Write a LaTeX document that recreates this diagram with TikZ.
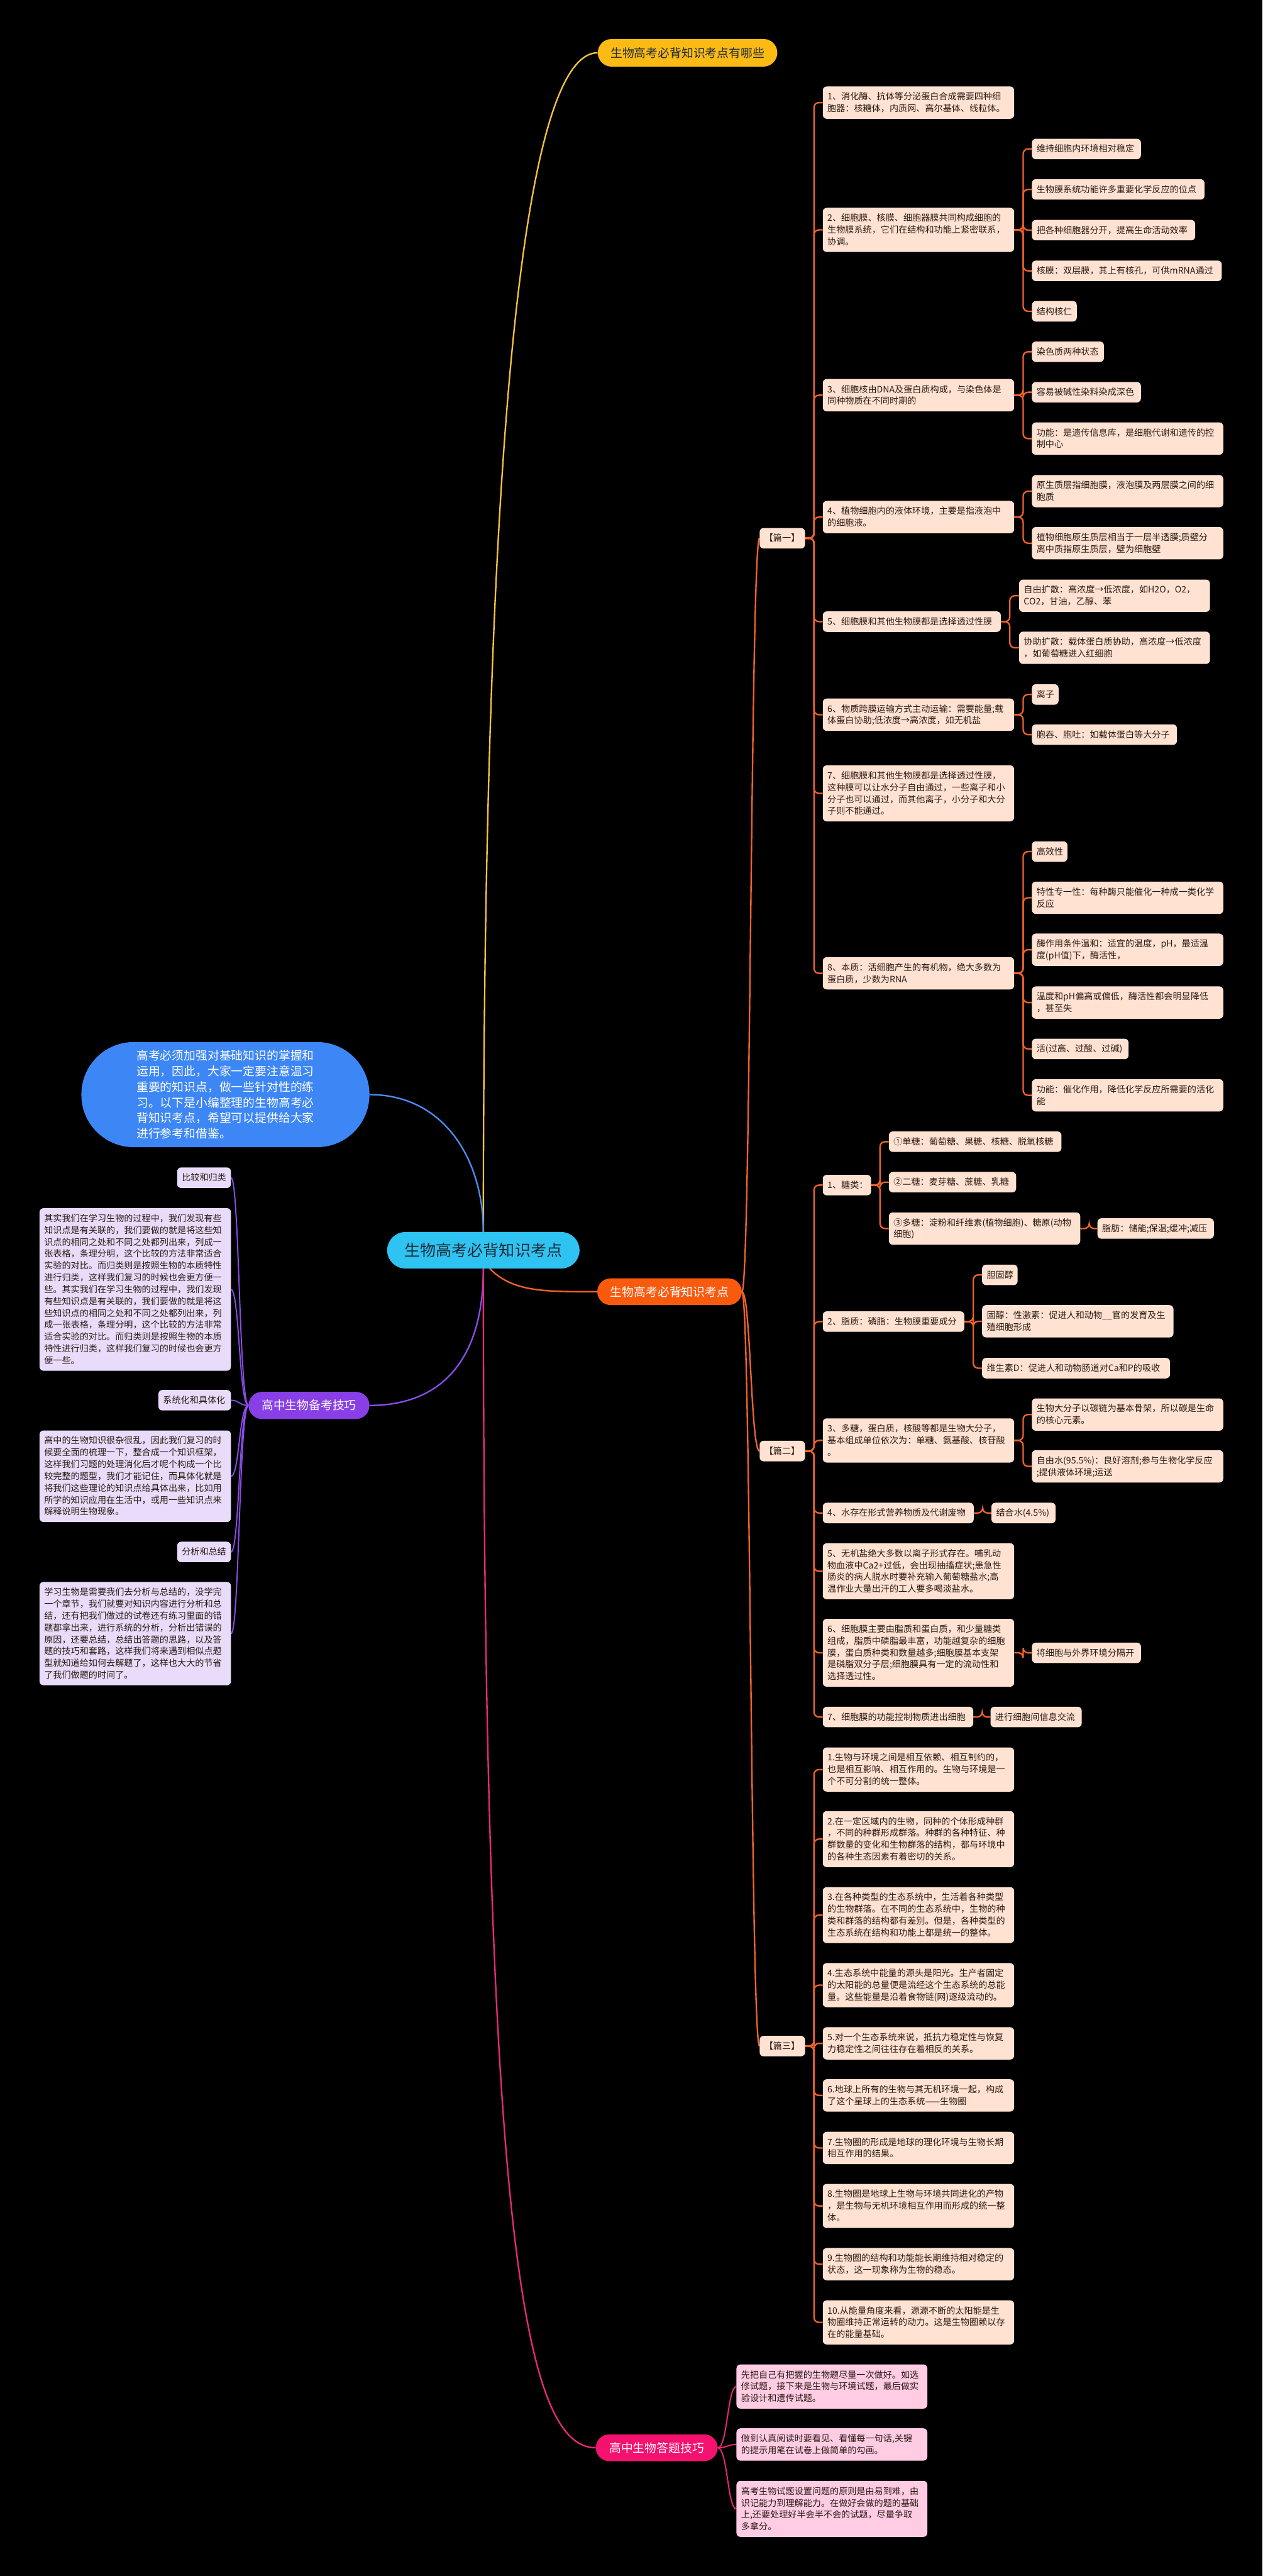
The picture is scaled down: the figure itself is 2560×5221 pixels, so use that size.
\documentclass[tikz,border=0pt]{standalone}
\usepackage{fontspec}
\setmainfont{Noto Sans CJK SC}
\usetikzlibrary{calc}
\pgfdeclarelayer{bg}
\pgfsetlayers{bg,main}
\definecolor{cyanr}{HTML}{2EC3F0}
\definecolor{yelf}{HTML}{FBBB14}
\definecolor{bluf}{HTML}{3D86F6}
\definecolor{orgf}{HTML}{F95A0E}
\definecolor{orgl}{HTML}{F0622A}
\definecolor{peach}{HTML}{FFE2D2}
\definecolor{ink}{HTML}{2A1A12}
\definecolor{ink2}{HTML}{1E2A36}
\definecolor{purf}{HTML}{8840E6}
\definecolor{lav}{HTML}{E8DCFA}
\definecolor{pnkf}{HTML}{F5126F}
\definecolor{rose}{HTML}{FFCCE4}
\definecolor{ylnc}{HTML}{F4C33C}
\definecolor{blnc}{HTML}{4A8CF2}
\definecolor{pulc}{HTML}{8A4DE6}
\definecolor{pklc}{HTML}{E62A78}
\newcommand\lstr{\rule[-5.5pt]{0pt}{24pt}}
\tikzset{
  lf/.style={anchor=north west, align=left, rounded corners=8pt, inner xsep=9.5pt, inner ysep=8.75pt,
    font=\fontsize{18}{24}\selectfont, text=ink, execute at begin node=\lstr, execute at end node=\lstr},
  pe/.style={lf, fill=peach},
  pu/.style={lf, fill=lav},
  pk/.style={lf, fill=rose},
  mainnode/.style={inner sep=0pt, font=\fontsize{24}{30}\selectfont},
  orline/.style={draw=orgl, line width=3pt, rounded corners=10pt},
  ocurve/.style={draw=orgl, line width=3pt},
  pline/.style={draw=pulc, line width=2.5pt},
  kline/.style={draw=pklc, line width=2.5pt}
}
\newcommand\elb[2]{\draw[orline] (#1.east) -- ++(18,0) |- (#2.west);}
\newcommand\pcu[2]{\draw[pline] (#1.west) .. controls +(-19,0) and +(17,0) .. (#2.east);}
\newcommand\kcu[2]{\draw[kline] (#1.east) .. controls +(20,0) and +(-18,0) .. (#2.west);}
\newcommand\ocu[2]{\draw[ocurve] (#1.east) .. controls +(18,0) and +(-18,0) .. (#2.west);}
\begin{document}
\begin{tikzpicture}[x=1pt,y=-1pt]
\begin{pgfonlayer}{bg}
\fill[black] (0,0) rectangle (2560,5221);
\end{pgfonlayer}
\useasboundingbox (0,0) rectangle (2560,5221);

% main nodes
\node[mainnode, fill=cyanr, text=ink2, rounded corners=37pt, minimum width=390pt, minimum height=74pt, font=\fontsize{32}{38}\selectfont] (root) at (980,2534) {生物高考必背知识考点};
\node[mainnode, fill=yelf, text=ink2, rounded corners=28pt, minimum width=364pt, minimum height=56pt] (nyel) at (1394,107) {生物高考必背知识考点有哪些};
\node[mainnode, fill=bluf, text=white, rounded corners=106pt, minimum width=584pt, minimum height=213pt, text width=360pt, align=left, font=\fontsize{24}{31.6}\selectfont] (nblu) at (457,2218.5) {高考必须加强对基础知识的掌握和\\运用，因此，大家一定要注意温习\\重要的知识点，做一些针对性的练\\习。以下是小编整理的生物高考必\\背知识考点，希望可以提供给大家\\进行参考和借鉴。};
\node[mainnode, fill=orgf, text=white, rounded corners=27pt, minimum width=293pt, minimum height=54pt] (norg) at (1357.5,2618) {生物高考必背知识考点};
\node[mainnode, fill=purf, text=white, rounded corners=27pt, minimum width=245pt, minimum height=55pt] (npur) at (626.5,2848.5) {高中生物备考技巧};
\node[mainnode, fill=pnkf, text=white, rounded corners=27pt, minimum width=247pt, minimum height=54pt] (npnk) at (1331.5,4961) {高中生物答题技巧};

% pian nodes
\node[pe, text width=73pt] (p1) at (1540,1070) {【篇一】};
\node[pe, text width=73pt] (p2) at (1540,2920) {【篇二】};
\node[pe, text width=73pt] (p3) at (1540,4126) {【篇三】};

% pian 1
\node[pe, text width=369pt] (a1) at (1668,175) {1、消化酶、抗体等分泌蛋白合成需要四种细\\胞器：核糖体，内质网、高尔基体、线粒体。};
\node[pe, text width=369pt] (a2) at (1668,421) {2、细胞膜、核膜、细胞器膜共同构成细胞的\\生物膜系统，它们在结构和功能上紧密联系，\\协调。};
\node[pe, text width=202pt] (a2s1) at (2092,281) {维持细胞内环境相对稳定};
\node[pe, text width=331pt] (a2s2) at (2092,363) {生物膜系统功能许多重要化学反应的位点};
\node[pe, text width=312pt] (a2s3) at (2092,445.5) {把各种细胞器分开，提高生命活动效率};
\node[pe, text width=366pt] (a2s4) at (2092,528) {核膜：双层膜，其上有核孔，可供mRNA通过};
\node[pe, text width=72pt] (a2s5) at (2092,610) {结构核仁};
\node[pe, text width=369pt] (a3) at (1668,768) {3、细胞核由DNA及蛋白质构成，与染色体是\\同种物质在不同时期的};
\node[pe, text width=127pt] (a3s1) at (2092,692) {染色质两种状态};
\node[pe, text width=202pt] (a3s2) at (2092,774) {容易被碱性染料染成深色};
\node[pe, text width=369pt] (a3s3) at (2092,856) {功能：是遗传信息库，是细胞代谢和遗传的控\\制中心};
\node[pe, text width=369pt] (a4) at (1668,1015) {4、植物细胞内的液体环境，主要是指液泡中\\的细胞液。};
\node[pe, text width=369pt] (a4s1) at (2092,962.5) {原生质层指细胞膜，液泡膜及两层膜之间的细\\胞质};
\node[pe, text width=369pt] (a4s2) at (2092,1068) {植物细胞原生质层相当于一层半透膜;质壁分\\离中质指原生质层，壁为细胞壁};
\node[pe, text width=342pt] (a5) at (1668,1239) {5、细胞膜和其他生物膜都是选择透过性膜};
\node[pe, text width=368pt] (a5s1) at (2066,1174.5) {自由扩散：高浓度→低浓度，如H2O，O2，\\CO2，甘油，乙醇、苯};
\node[pe, text width=368pt] (a5s2) at (2066,1280) {协助扩散：载体蛋白质协助，高浓度→低浓度\\，如葡萄糖进入红细胞};
\node[pe, text width=369pt] (a6) at (1668,1415.6) {6、物质跨膜运输方式主动运输：需要能量;载\\体蛋白协助;低浓度→高浓度，如无机盐};
\node[pe, text width=35pt] (a6s1) at (2092,1386.6) {离子};
\node[pe, text width=275pt] (a6s2) at (2092,1468) {胞吞、胞吐：如载体蛋白等大分子};
\node[pe, text width=369pt] (a7) at (1668,1551) {7、细胞膜和其他生物膜都是选择透过性膜，\\这种膜可以让水分子自由通过，一些离子和小\\分子也可以通过，而其他离子，小分子和大分\\子则不能通过。};
\node[pe, text width=369pt] (a8) at (1668,1939.7) {8、本质：活细胞产生的有机物，绝大多数为\\蛋白质，少数为RNA};
\node[pe, text width=53pt] (a8s1) at (2092,1705) {高效性};
\node[pe, text width=369pt] (a8s2) at (2092,1786.6) {特性专一性：每种酶只能催化一种成一类化学\\反应};
\node[pe, text width=369pt] (a8s3) at (2092,1892) {酶作用条件温和：适宜的温度，pH，最适温\\度(pH值)下，酶活性，};
\node[pe, text width=369pt] (a8s4) at (2092,1999) {温度和pH偏高或偏低，酶活性都会明显降低\\，甚至失};
\node[pe, text width=177pt] (a8s5) at (2092,2105) {活(过高、过酸、过碱)};
\node[pe, text width=369pt] (a8s6) at (2092,2187) {功能：催化作用，降低化学反应所需要的活化\\能};

% pian 2
\node[pe, text width=79pt] (b1) at (1668,2381) {1、糖类：};
\node[pe, text width=331pt] (b1s1) at (1802,2293) {①单糖：葡萄糖、果糖、核糖、脱氧核糖};
\node[pe, text width=239pt] (b1s2) at (1802,2375) {②二糖：麦芽糖、蔗糖、乳糖};
\node[pe, text width=369pt] (b1s3) at (1802,2457) {③多糖：淀粉和纤维素(植物细胞)、糖原(动物\\细胞)};
\node[pe, text width=217pt] (b1s3a) at (2225,2469) {脂肪：储能;保温;缓冲;减压};
\node[pe, text width=268pt] (b2) at (1668,2657.6) {2、脂质：磷脂：生物膜重要成分};
\node[pe, text width=53pt] (b2s1) at (1991,2563) {胆固醇};
\node[pe, text width=369pt] (b2s2) at (1991,2645) {固醇：性激素：促进人和动物\_\_官的发育及生\\殖细胞形成};
\node[pe, text width=362pt] (b2s3) at (1991,2752) {维生素D：促进人和动物肠道对Ca和P的吸收};
\node[pe, text width=369pt] (b3) at (1668,2874.5) {3、多糖，蛋白质，核酸等都是生物大分子，\\基本组成单位依次为：单糖、氨基酸、核苷酸\\。};
\node[pe, text width=369pt] (b3s1) at (2092,2834) {生物大分子以碳链为基本骨架，所以碳是生命\\的核心元素。};
\node[pe, text width=369pt] (b3s2) at (2092,2939) {自由水(95.5\%)：良好溶剂;参与生物化学反应\\;提供液体环境;运送};
\node[pe, text width=287pt] (b4) at (1668,3045.5) {4、水存在形式营养物质及代谢废物};
\node[pe, text width=111pt] (b4s1) at (2010,3045.5) {结合水(4.5\%)};
\node[pe, text width=369pt] (b5) at (1668,3127.6) {5、无机盐绝大多数以离子形式存在。哺乳动\\物血液中Ca2+过低，会出现抽搐症状;患急性\\肠炎的病人脱水时要补充输入葡萄糖盐水;高\\温作业大量出汗的工人要多喝淡盐水。};
\node[pe, text width=369pt] (b6) at (1668,3280.8) {6、细胞膜主要由脂质和蛋白质，和少量糖类\\组成，脂质中磷脂最丰富，功能越复杂的细胞\\膜，蛋白质种类和数量越多;细胞膜基本支架\\是磷脂双分子层;细胞膜具有一定的流动性和\\选择透过性。};
\node[pe, text width=202pt] (b6s1) at (2092,3329) {将细胞与外界环境分隔开};
\node[pe, text width=286pt] (b7) at (1668,3459) {7、细胞膜的功能控制物质进出细胞};
\node[pe, text width=166pt] (b7s1) at (2008,3459) {进行细胞间信息交流};

% pian 3
\node[pe, text width=369pt] (c1) at (1668,3541.5) {1.生物与环境之间是相互依赖、相互制约的，\\也是相互影响、相互作用的。生物与环境是一\\个不可分割的统一整体。};
\node[pe, text width=369pt] (c2) at (1668,3670.5) {2.在一定区域内的生物，同种的个体形成种群\\，不同的种群形成群落。种群的各种特征、种\\群数量的变化和生物群落的结构，都与环境中\\的各种生态因素有着密切的关系。};
\node[pe, text width=369pt] (c3) at (1668,3824.5) {3.在各种类型的生态系统中，生活着各种类型\\的生物群落。在不同的生态系统中，生物的种\\类和群落的结构都有差别。但是，各种类型的\\生态系统在结构和功能上都是统一的整体。};
\node[pe, text width=369pt] (c4) at (1668,3978.5) {4.生态系统中能量的源头是阳光。生产者固定\\的太阳能的总量便是流经这个生态系统的总能\\量。这些能量是沿着食物链(网)逐级流动的。};
\node[pe, text width=369pt] (c5) at (1668,4108.5) {5.对一个生态系统来说，抵抗力稳定性与恢复\\力稳定性之间往往存在着相反的关系。};
\node[pe, text width=369pt] (c6) at (1668,4214) {6.地球上所有的生物与其无机环境一起，构成\\了这个星球上的生态系统——生物圈};
\node[pe, text width=369pt] (c7) at (1668,4320.5) {7.生物圈的形成是地球的理化环境与生物长期\\相互作用的结果。};
\node[pe, text width=369pt] (c8) at (1668,4426) {8.生物圈是地球上生物与环境共同进化的产物\\，是生物与无机环境相互作用而形成的统一整\\体。};
\node[pe, text width=369pt] (c9) at (1668,4556) {9.生物圈的结构和功能能长期维持相对稳定的\\状态，这一现象称为生物的稳态。};
\node[pe, text width=369pt] (c10) at (1668,4662) {10.从能量角度来看，源源不断的太阳能是生\\物圈维持正常运转的动力。这是生物圈赖以存\\在的能量基础。};

% pink children
\node[pk, text width=368pt] (d1) at (1493,4792) {先把自己有把握的生物题尽量一次做好。如选\\修试题，接下来是生物与环境试题，最后做实\\验设计和遗传试题。};
\node[pk, text width=368pt] (d2) at (1493,4921.5) {做到认真阅读时要看见、看懂每一句话,关键\\的提示用笔在试卷上做简单的勾画。};
\node[pk, text width=368pt] (d3) at (1493,5028) {高考生物试题设置问题的原则是由易到难，由\\识记能力到理解能力。在做好会做的题的基础\\上,还要处理好半会半不会的试题，尽量争取\\多拿分。};

% purple children
\node[pu, text width=90pt] (e1) at (359,2366) {比较和归类};
\node[pu, text width=369pt] (e2) at (80,2448.5) {其实我们在学习生物的过程中，我们发现有些\\知识点是有关联的，我们要做的就是将这些知\\识点的相同之处和不同之处都列出来，列成一\\张表格，条理分明，这个比较的方法非常适合\\实验的对比。而归类则是按照生物的本质特性\\进行归类，这样我们复习的时候也会更方便一\\些。其实我们在学习生物的过程中，我们发现\\有些知识点是有关联的，我们要做的就是将这\\些知识点的相同之处和不同之处都列出来，列\\成一张表格，条理分明，这个比较的方法非常\\适合实验的对比。而归类则是按照生物的本质\\特性进行归类，这样我们复习的时候也会更方\\便一些。};
\node[pu, text width=128pt] (e3) at (321,2817) {系统化和具体化};
\node[pu, text width=369pt] (e4) at (80,2899) {高中的生物知识很杂很乱，因此我们复习的时\\候要全面的梳理一下，整合成一个知识框架，\\这样我们习题的处理消化后才呢个构成一个比\\较完整的题型，我们才能记住，而具体化就是\\将我们这些理论的知识点给具体出来，比如用\\所学的知识应用在生活中，或用一些知识点来\\解释说明生物现象。};
\node[pu, text width=90pt] (e5) at (359,3124.5) {分析和总结};
\node[pu, text width=369pt] (e6) at (80,3206) {学习生物是需要我们去分析与总结的，没学完\\一个章节，我们就要对知识内容进行分析和总\\结，还有把我们做过的试卷还有练习里面的错\\题都拿出来，进行系统的分析，分析出错误的\\原因，还要总结，总结出答题的思路，以及答\\题的技巧和套路，这样我们将来遇到相似点题\\型就知道给如何去解题了，这样也大大的节省\\了我们做题的时间了。};

\begin{pgfonlayer}{bg}
% root connectors
\draw[draw=ylnc, line width=3pt] (root.north) .. controls +(0,-1597) and +(-152,0) .. (nyel.west);
\draw[draw=blnc, line width=3pt] (nblu.east) .. controls +(151,0) and +(0,-147) .. (root.north);
\draw[draw=pulc, line width=3pt] (root.south) .. controls +(0,179) and +(151,0) .. (npur.east);
\draw[draw=pklc, line width=3pt] (root.south) .. controls +(0,1929) and +(-148,0) .. (npnk.west);
\draw[ocurve] ([xshift=13pt]root.south) .. controls +(47,47) and +(-111,0) .. (norg.west);
% orange root to pian
\ocu{norg}{p1}
\ocu{norg}{p2}
\ocu{norg}{p3}
% pian 1
\elb{p1}{a1}\elb{p1}{a2}\elb{p1}{a3}\elb{p1}{a4}\elb{p1}{a5}\elb{p1}{a6}\elb{p1}{a7}\elb{p1}{a8}
\elb{a2}{a2s1}\elb{a2}{a2s2}\elb{a2}{a2s3}\elb{a2}{a2s4}\elb{a2}{a2s5}
\elb{a3}{a3s1}\elb{a3}{a3s2}\elb{a3}{a3s3}
\elb{a4}{a4s1}\elb{a4}{a4s2}
\elb{a5}{a5s1}\elb{a5}{a5s2}
\elb{a6}{a6s1}\elb{a6}{a6s2}
\elb{a8}{a8s1}\elb{a8}{a8s2}\elb{a8}{a8s3}\elb{a8}{a8s4}\elb{a8}{a8s5}\elb{a8}{a8s6}
% pian 2
\elb{p2}{b1}\elb{p2}{b2}\elb{p2}{b3}\elb{p2}{b4}\elb{p2}{b5}\elb{p2}{b6}\elb{p2}{b7}
\elb{b1}{b1s1}\elb{b1}{b1s2}\elb{b1}{b1s3}
\elb{b1s3}{b1s3a}
\elb{b2}{b2s1}\elb{b2}{b2s2}\elb{b2}{b2s3}
\elb{b3}{b3s1}\elb{b3}{b3s2}
\elb{b4}{b4s1}
\elb{b6}{b6s1}
\elb{b7}{b7s1}
% pian 3
\elb{p3}{c1}\elb{p3}{c2}\elb{p3}{c3}\elb{p3}{c4}\elb{p3}{c5}\elb{p3}{c6}\elb{p3}{c7}\elb{p3}{c8}\elb{p3}{c9}\elb{p3}{c10}
% pink
\kcu{npnk}{d1}\kcu{npnk}{d2}\kcu{npnk}{d3}
% purple
\pcu{npur}{e1}\pcu{npur}{e2}\pcu{npur}{e3}\pcu{npur}{e4}\pcu{npur}{e5}\pcu{npur}{e6}
\end{pgfonlayer}
\end{tikzpicture}
\end{document}
